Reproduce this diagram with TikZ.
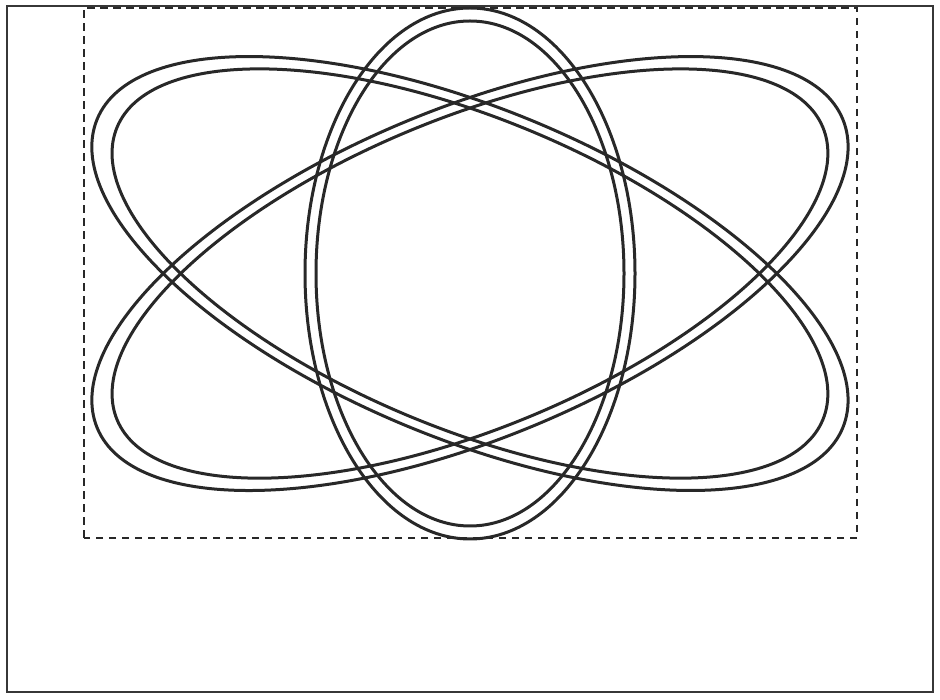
\documentclass[tikz,border=0pt]{standalone}
\definecolor{ink}{RGB}{40,40,40}
\definecolor{frame}{RGB}{55,55,55}
\begin{document}
\begin{tikzpicture}[x=1pt,y=1pt,
  orbit/.style={draw=ink,line width=3pt},
  framebox/.style={draw=frame,line width=2.2pt},
  bbox/.style={draw=ink,line width=2.2pt,dash pattern=on 7.5pt off 5.5pt}]
\useasboundingbox (0,0) rectangle (940,699);
\coordinate (c) at (470,425.5);
% outer frame
\draw[framebox] (7,7) rectangle (933,693);
% dashed box
\draw[bbox] (84,161) rectangle (857,691);
% vertical orbit
\draw[orbit] (c) ellipse [x radius=165pt, y radius=265.5pt];
\draw[orbit] (c) ellipse [x radius=154pt, y radius=252.5pt];
% tilted orbits
\draw[orbit, rotate around={-22.5:(c)}] (c) ellipse [x radius=403.5pt, y radius=165pt];
\draw[orbit, rotate around={-22.5:(c)}] (c) ellipse [x radius=382pt, y radius=155pt];
\draw[orbit, rotate around={22.5:(c)}] (c) ellipse [x radius=403.5pt, y radius=165pt];
\draw[orbit, rotate around={22.5:(c)}] (c) ellipse [x radius=382pt, y radius=155pt];
\end{tikzpicture}
\end{document}
